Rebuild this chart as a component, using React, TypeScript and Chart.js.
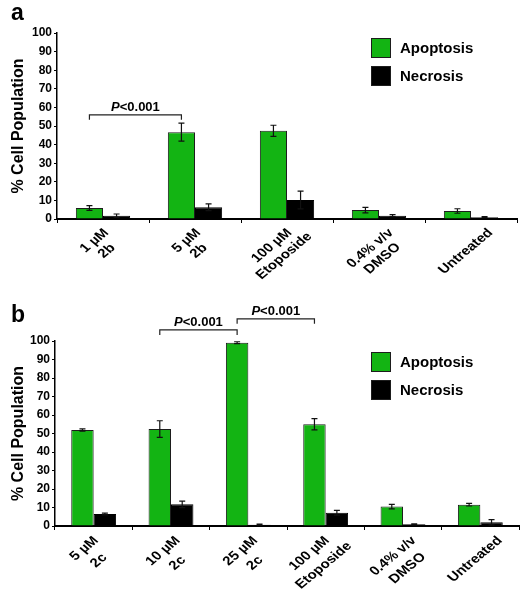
import React, { useEffect, useRef } from "react";
import { Chart, registerables } from "chart.js";

Chart.register(...registerables);

const FONT = "'Liberation Sans', Arial, Helvetica, sans-serif";
const GREEN = "#13b413";

// ---- Panel a data ----
const categoriesA: (string | string[])[] = [
  ["1 µM", "2b"],
  ["5 µM", "2b"],
  ["100 µM", "Etoposide"],
  ["0.4% v/v", "DMSO"],
  "Untreated",
];
const apoptosisA = [5.9, 46.7, 47.4, 4.8, 4.3];
const apoptosisErrA = [1.3, 4.8, 3.0, 1.5, 1.2];
const necrosisA = [1.8, 6.3, 10.2, 1.8, 1.0];
const necrosisErrA = [0.9, 1.8, 4.8, 0.5, 0.3];

// ---- Panel b data ----
const categoriesB: (string | string[])[] = [
  ["5 µM", "2c"],
  ["10 µM", "2c"],
  ["25 µM", "2c"],
  ["100 µM", "Etoposide"],
  ["0.4% v/v", "DMSO"],
  "Untreated",
];
const apoptosisB = [51.9, 52.4, 99.1, 55.0, 10.5, 11.5];
const apoptosisErrB = [0.6, 4.5, 0.5, 3.0, 1.2, 0.7];
const necrosisB = [6.5, 11.7, 0.7, 7.2, 0.9, 2.0];
const necrosisErrB = [0.5, 1.8, 0.3, 1.3, 0.3, 1.4];

// ---- Ticks & annotations ----
const yTicksMin = 0;
const yTicksMax = 100;
const yTicksStep = 10;
const seriesNames = ["Apoptosis", "Necrosis"];
const axisTitle = "% Cell Population";

type Bracket = { from: number; to: number; value: number; label: string };
const bracketsA: Bracket[] = [{ from: 0, to: 1, value: 56, label: "P<0.001" }];
const bracketsB: Bracket[] = [
  { from: 1, to: 2, value: 106, label: "P<0.001" },
  { from: 2, to: 3, value: 112, label: "P<0.001" },
];

const errorBarPlugin = {
  id: "errorBars",
  afterDatasetsDraw(chart: any, _args: any, opts: any) {
    const ctx = chart.ctx;
    const yScale = chart.scales.y;
    const errs: number[][] = opts.errors || [];
    chart.data.datasets.forEach((ds: any, di: number) => {
      const meta = chart.getDatasetMeta(di);
      meta.data.forEach((bar: any, i: number) => {
        const v = ds.data[i];
        const e = (errs[di] || [])[i] || 0;
        const x = bar.x;
        const yt = yScale.getPixelForValue(v + e);
        const yb = yScale.getPixelForValue(Math.max(0, v - e));
        ctx.save();
        ctx.strokeStyle = "#111";
        ctx.lineWidth = 1.2;
        ctx.beginPath();
        ctx.moveTo(x, yt);
        ctx.lineTo(x, yb);
        ctx.moveTo(x - 3, yt);
        ctx.lineTo(x + 3, yt);
        ctx.moveTo(x - 3, yb);
        ctx.lineTo(x + 3, yb);
        ctx.stroke();
        ctx.restore();
      });
    });
  },
};

const bracketPlugin = {
  id: "brackets",
  afterDraw(chart: any, _args: any, opts: any) {
    const ctx = chart.ctx;
    const yScale = chart.scales.y;
    const meta = chart.getDatasetMeta(0);
    const list: Bracket[] = opts.items || [];
    list.forEach((b) => {
      const x1 = meta.data[b.from].x;
      const x2 = meta.data[b.to].x;
      const y = yScale.getPixelForValue(b.value);
      ctx.save();
      ctx.strokeStyle = "#222";
      ctx.lineWidth = 1.2;
      ctx.beginPath();
      ctx.moveTo(x1, y + 5);
      ctx.lineTo(x1, y);
      ctx.lineTo(x2, y);
      ctx.lineTo(x2, y + 5);
      ctx.stroke();
      const first = b.label.slice(0, 1);
      const rest = b.label.slice(1);
      ctx.fillStyle = "#000";
      ctx.textBaseline = "alphabetic";
      ctx.font = `italic bold 13px ${FONT}`;
      const w1 = ctx.measureText(first).width;
      ctx.font = `bold 13px ${FONT}`;
      const w2 = ctx.measureText(rest).width;
      const sx = (x1 + x2) / 2 - (w1 + w2) / 2;
      ctx.font = `italic bold 13px ${FONT}`;
      ctx.fillText(first, sx, y - 4);
      ctx.font = `bold 13px ${FONT}`;
      ctx.fillText(rest, sx + w1, y - 4);
      ctx.restore();
    });
  },
};

// Category labels rotated 45°, lines centred, block centred under each category
const xLabelPlugin = {
  id: "xLabels",
  afterDraw(chart: any, _args: any, opts: any) {
    const ctx = chart.ctx;
    const xScale = chart.scales.x;
    const labels: (string | string[])[] = chart.data.labels;
    const size = opts.size;
    const lh = opts.lineHeight;
    const gap = opts.gap;
    const shift = opts.shift;
    const kx = opts.stretch;
    const c = Math.SQRT1_2;
    ctx.save();
    ctx.font = `bold ${size}px ${FONT}`;
    ctx.fillStyle = "#000";
    labels.forEach((lab, i) => {
      const lines = Array.isArray(lab) ? lab : [lab];
      const widths = lines.map((l) => ctx.measureText(l).width);
      let xmin = Infinity, xmax = -Infinity, ymin = Infinity;
      lines.forEach((_, k) => {
        const w = widths[k];
        const pts = [
          [-w / 2, k * lh],
          [w / 2, k * lh],
          [-w / 2, (k + 1) * lh],
          [w / 2, (k + 1) * lh],
        ];
        pts.forEach(([u, v]) => {
          const sx = kx * (u * c + v * c);
          const sy = -u * c + v * c;
          xmin = Math.min(xmin, sx);
          xmax = Math.max(xmax, sx);
          ymin = Math.min(ymin, sy);
        });
      });
      const tickX = xScale.getPixelForValue(i);
      const ax = tickX + shift - (xmin + xmax) / 2;
      const ay = xScale.top + gap - ymin;
      ctx.save();
      ctx.translate(ax, ay);
      ctx.scale(kx, 1);
      ctx.rotate(-Math.PI / 4);
      ctx.textAlign = "center";
      ctx.textBaseline = "middle";
      lines.forEach((l, k) => {
        ctx.fillText(l, 0, k * lh + lh / 2 + 1);
      });
      ctx.restore();
    });
    ctx.restore();
  },
};

const legendPlugin = {
  id: "customLegend",
  afterDraw(chart: any, _args: any, opts: any) {
    const ctx = chart.ctx;
    const items = chart.data.datasets;
    ctx.save();
    items.forEach((ds: any, i: number) => {
      const y = opts.y + i * opts.gap;
      ctx.fillStyle = ds.backgroundColor;
      ctx.fillRect(opts.x, y, opts.size, opts.size);
      ctx.strokeStyle = "#1d1d1d";
      ctx.lineWidth = 1;
      ctx.strokeRect(opts.x + 0.5, y + 0.5, opts.size - 1, opts.size - 1);
      ctx.fillStyle = "#000";
      ctx.font = `bold 15px ${FONT}`;
      ctx.textBaseline = "middle";
      ctx.textAlign = "left";
      ctx.fillText(ds.label, opts.x + opts.size + 9, y + opts.size / 2 + 1);
    });
    ctx.restore();
  },
};

const letterPlugin = {
  id: "panelLetter",
  afterDraw(chart: any, _args: any, opts: any) {
    const ctx = chart.ctx;
    ctx.save();
    ctx.fillStyle = "#000";
    ctx.font = `bold 23px ${FONT}`;
    ctx.textBaseline = "alphabetic";
    ctx.textAlign = "left";
    ctx.fillText(opts.text, opts.x, opts.y);
    ctx.restore();
  },
};

type PanelParams = {
  categories: (string | string[])[];
  apo: number[];
  apoErr: number[];
  nec: number[];
  necErr: number[];
  brackets: Bracket[];
  catPct: number;
  padTop: number;
  padRight: number;
  yWidth: number;
  xHeight: number;
  legendY: number;
  letter: string;
  letterY: number;
  labelLineHeight: number;
};

function buildConfig(p: PanelParams): any {
  return {
    type: "bar",
    data: {
      labels: p.categories,
      datasets: [
        {
          label: seriesNames[0],
          data: p.apo,
          backgroundColor: GREEN,
          borderColor: "#1d1d1d",
          borderWidth: 1,
          barPercentage: 1,
          categoryPercentage: p.catPct,
        },
        {
          label: seriesNames[1],
          data: p.nec,
          backgroundColor: "#000000",
          borderColor: "#000000",
          borderWidth: 1,
          barPercentage: 1,
          categoryPercentage: p.catPct,
        },
      ],
    },
    options: {
      responsive: false,
      maintainAspectRatio: false,
      animation: false,
      devicePixelRatio: 1,
      layout: { padding: { top: p.padTop, right: p.padRight, left: 0, bottom: 0 } },
      scales: {
        x: {
          grid: {
            display: true,
            drawOnChartArea: false,
            offset: true,
            tickLength: 4,
            color: "#000",
            lineWidth: 1,
          },
          border: { display: true, color: "#000", width: 2 },
          ticks: { display: false },
          afterFit: (s: any) => {
            s.height = p.xHeight;
          },
        },
        y: {
          min: yTicksMin,
          max: yTicksMax,
          grid: {
            display: true,
            drawOnChartArea: false,
            tickLength: 3,
            color: "#000",
            lineWidth: 1,
          },
          border: { display: true, color: "#000", width: 1.5 },
          ticks: {
            stepSize: yTicksStep,
            color: "#000",
            autoSkip: false,
            font: { family: FONT, size: 12, weight: "bold" },
            padding: 2,
          },
          title: {
            display: true,
            text: axisTitle,
            color: "#000",
            font: { family: FONT, size: 16, weight: "bold" },
            padding: { top: 9, bottom: 0 },
          },
          afterFit: (s: any) => {
            s.width = p.yWidth;
          },
        },
      },
      plugins: {
        legend: { display: false },
        tooltip: { enabled: false },
        errorBars: { errors: [p.apoErr, p.necErr] },
        brackets: { items: p.brackets },
        xLabels: { size: 12.5, lineHeight: p.labelLineHeight, gap: 6, shift: -6, stretch: 1.2 },
        customLegend: { x: 371, y: p.legendY, size: 20, gap: 28 },
        panelLetter: { text: p.letter, x: 11, y: p.letterY },
      },
    },
    plugins: [errorBarPlugin, bracketPlugin, xLabelPlugin, legendPlugin, letterPlugin],
  };
}

function ChartPanel({ params, height }: { params: PanelParams; height: number }) {
  const ref = useRef<HTMLCanvasElement>(null);
  useEffect(() => {
    if (!ref.current) return;
    const chart = new Chart(ref.current, buildConfig(params));
    return () => chart.destroy();
  }, []);
  return (
    <canvas
      ref={ref}
      width={528}
      height={height}
      style={{ display: "block", width: 528, height }}
    />
  );
}

const panelA: PanelParams = {
  categories: categoriesA,
  apo: apoptosisA,
  apoErr: apoptosisErrA,
  nec: necrosisA,
  necErr: necrosisErrA,
  brackets: bracketsA,
  catPct: 0.59,
  padTop: 33,
  padRight: 11,
  yWidth: 57,
  xHeight: 71,
  legendY: 38,
  letter: "a",
  letterY: 20,
  labelLineHeight: 14.5,
};

const panelB: PanelParams = {
  categories: categoriesB,
  apo: apoptosisB,
  apoErr: apoptosisErrB,
  nec: necrosisB,
  necErr: necrosisErrB,
  brackets: bracketsB,
  catPct: 0.58,
  padTop: 51,
  padRight: 9,
  yWidth: 55,
  xHeight: 74,
  legendY: 62,
  letter: "b",
  letterY: 32,
  labelLineHeight: 17,
};

export default function App() {
  return (
    <div style={{ position: "absolute", left: 0, top: 0, width: 528, height: 600, background: "#fff" }}>
      <ChartPanel params={panelA} height={290} />
      <ChartPanel params={panelB} height={310} />
    </div>
  );
}
